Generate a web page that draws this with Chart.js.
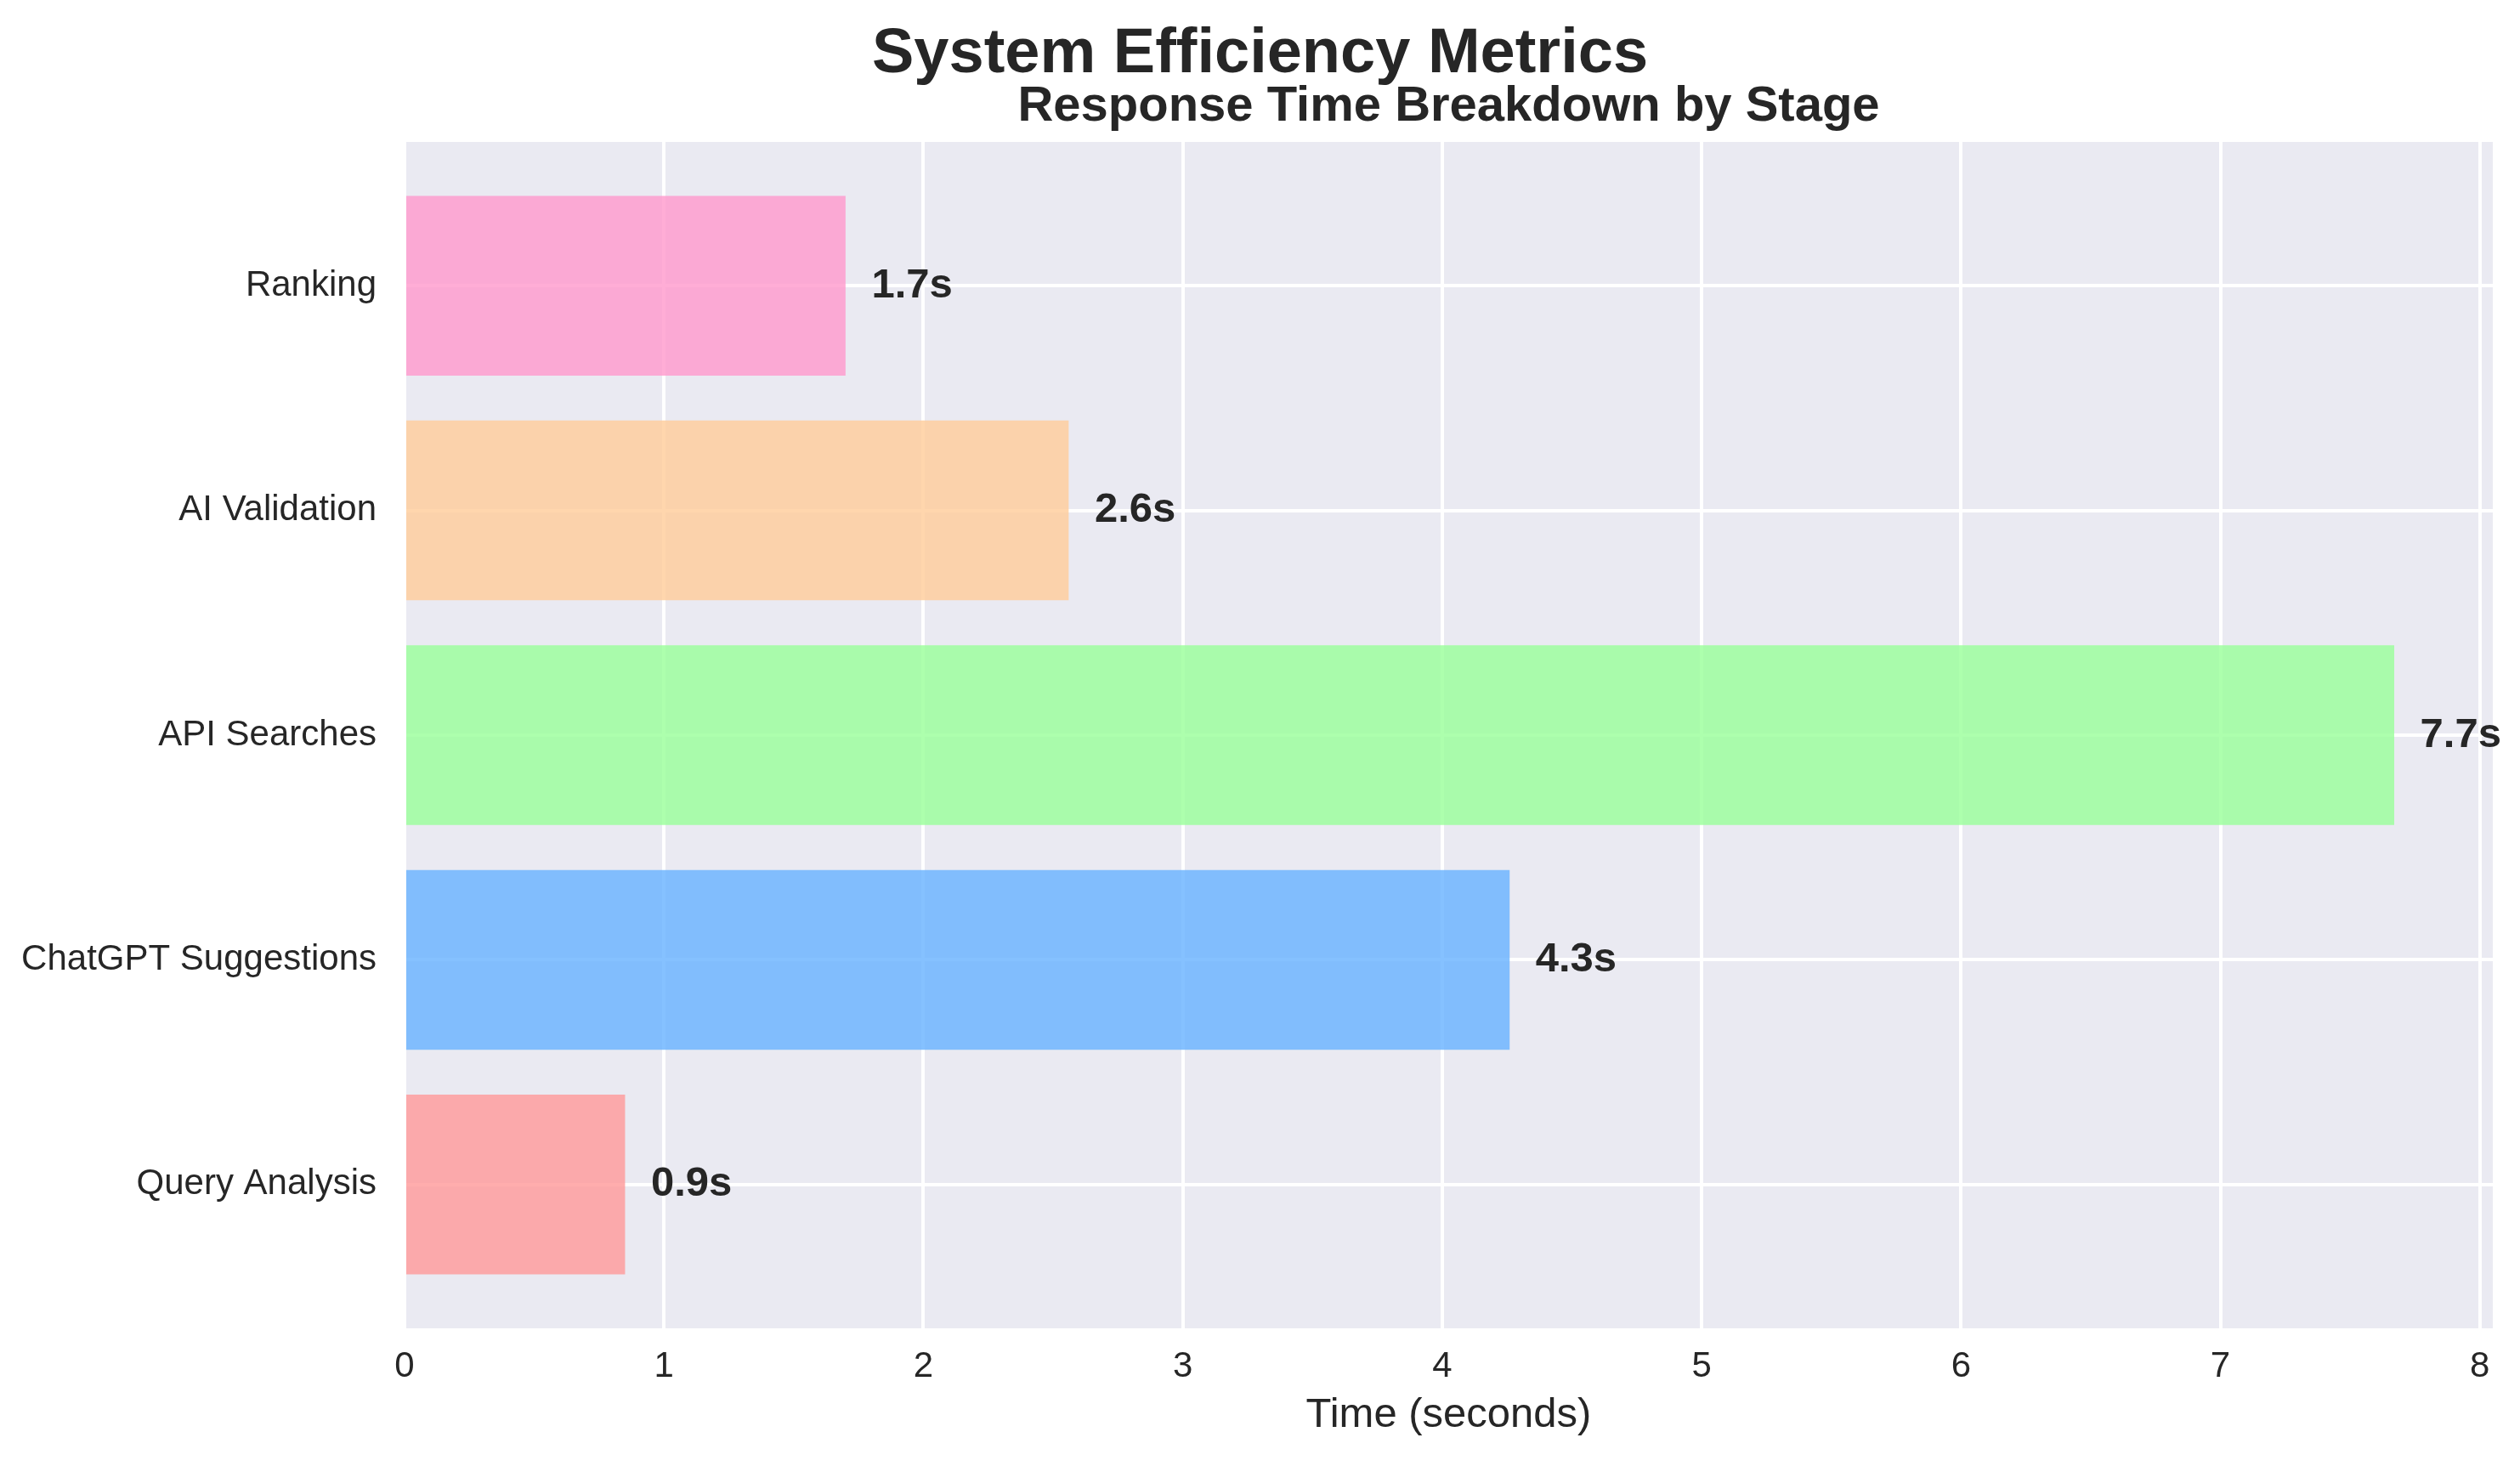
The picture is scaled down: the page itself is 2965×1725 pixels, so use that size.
<!DOCTYPE html>
<html>
<head>
<meta charset="utf-8">
<script src="https://cdn.jsdelivr.net/npm/chart.js@4"></script>
<style>
    html, body { margin: 0; padding: 0; background: #ffffff; }
    #chart { display: block; }
</style>
</head>
<body>
<canvas id="chart" width="2965" height="1725" style="width:2965px;height:1725px"></canvas>
<script>
// data
const stages = ['Query Analysis', 'ChatGPT Suggestions', 'API Searches', 'AI Validation', 'Ranking']
const times = [0.85, 4.26, 7.67, 2.56, 1.70]
const xTicks = [0, 1, 2, 3, 4, 5, 6, 7, 8]

const mainTitle = 'System Efficiency Metrics'
const subTitle = 'Response Time Breakdown by Stage'
const xLabel = 'Time (seconds)'

const FONT = '"Liberation Sans", Arial, Helvetica, sans-serif'
const TEXT = '#262626'

// plugins
const background = {
    id: 'background',
    beforeDraw: (chart) => {
        const { ctx, chartArea: a } = chart
        ctx.save()
        ctx.fillStyle = '#ffffff'
        ctx.fillRect(0, 0, chart.width, chart.height)
        ctx.fillStyle = '#EAEAF2'
        ctx.fillRect(a.left, a.top, a.right - a.left, a.bottom - a.top)
        ctx.restore()
    }
}

const titles = {
    id: 'titles',
    afterDraw: (chart) => {
        const { ctx, chartArea: a } = chart
        ctx.save()
        ctx.fillStyle = TEXT
        ctx.textAlign = 'center'
        ctx.textBaseline = 'alphabetic'
        ctx.font = 'bold 74px ' + FONT
        ctx.fillText(mainTitle, chart.width / 2, 85)
        ctx.font = 'bold 58px ' + FONT
        ctx.fillText(subTitle, (a.left + a.right) / 2, 142)
        ctx.restore()
    }
}

const barLabels = {
    id: 'barLabels',
    afterDatasetsDraw: (chart) => {
        const { ctx } = chart
        const xScale = chart.scales.x
        const meta = chart.getDatasetMeta(0)
        ctx.save()
        ctx.fillStyle = TEXT
        ctx.font = 'bold 49px ' + FONT
        ctx.textAlign = 'left'
        ctx.textBaseline = 'middle'
        meta.data.forEach((bar, i) => {
            const label = (Math.round(times[i] * 10) / 10).toFixed(1) + 's'
            ctx.fillText(label, xScale.getPixelForValue(times[i] + 0.1), bar.y)
        })
        ctx.restore()
    }
}

const data = {
    datasets: [{
        data: times.map((t, i) => ({ x: t, y: i })),
        backgroundColor: [
            'rgba(255, 153, 153, 0.8)',
            'rgba(102, 178, 255, 0.8)',
            'rgba(153, 255, 153, 0.8)',
            'rgba(255, 204, 153, 0.8)',
            'rgba(255, 153, 204, 0.8)'
        ],
        borderWidth: 0,
        barPercentage: 0.8,
        categoryPercentage: 1.0
    }]
}

const config = {
    type: 'bar',
    data: data,
    options: {
        indexAxis: 'y',
        responsive: false,
        devicePixelRatio: 1,
        animation: false,
        layout: { padding: { top: 167, left: 0, right: 32, bottom: 0 } },
        plugins: {
            legend: { display: false },
            title: { display: false },
            tooltip: { enabled: false }
        },
        scales: {
            x: {
                type: 'linear',
                min: 0,
                max: 8.05,
                afterBuildTicks: (axis) => { axis.ticks = xTicks.map(v => ({ value: v })) },
                afterFit: (axis) => { axis.height = 162 },
                grid: { color: '#ffffff', lineWidth: 4, drawTicks: false, tickLength: 0 },
                border: { display: false },
                ticks: {
                    color: TEXT,
                    padding: 20,
                    font: { family: FONT, size: 42 },
                    callback: (v) => String(v)
                },
                title: {
                    display: true,
                    text: xLabel,
                    color: TEXT,
                    padding: { top: 0, bottom: 30 },
                    font: { family: FONT, size: 49 }
                }
            },
            y: {
                type: 'linear',
                min: -0.64,
                max: 4.64,
                offset: false,
                afterBuildTicks: (axis) => { axis.ticks = stages.map((s, i) => ({ value: i })) },
                afterFit: (axis) => { axis.width = 476 },
                grid: { color: '#ffffff', lineWidth: 4, drawTicks: false, tickLength: 0, offset: false },
                border: { display: false },
                ticks: {
                    color: TEXT,
                    padding: 33,
                    font: { family: FONT, size: 42 },
                    callback: (v) => stages[v]
                }
            }
        }
    },
    plugins: [background, barLabels, titles]
}

new Chart(document.getElementById('chart'), config)
</script>
</body>
</html>
